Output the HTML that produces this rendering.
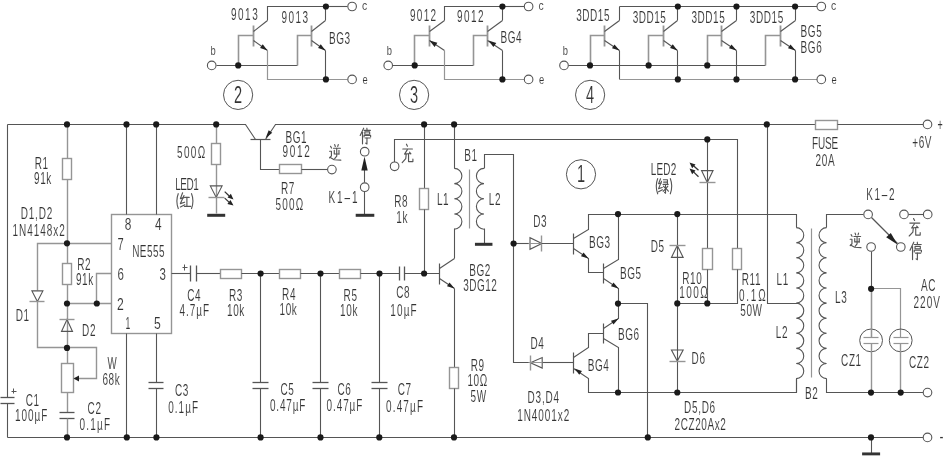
<!DOCTYPE html>
<html><head><meta charset="utf-8"><style>
html,body{margin:0;padding:0;background:#fff;}
svg{display:block;will-change:transform;}
text{font-family:"Liberation Sans",sans-serif;font-size:15.6px;fill:#333;stroke:#fff;stroke-width:0.12px;paint-order:fill stroke;}
</style></head><body>
<svg width="945" height="464" viewBox="0 0 945 464">
<rect width="945" height="464" fill="#fff"/>
<polyline points="216.5,65.5 297.5,65.5" fill="none" stroke="#555" stroke-width="1.1"/>
<polyline points="238.5,65.5 238.5,35.5 253.5,35.5" fill="none" stroke="#959595" stroke-width="1.6"/>
<polyline points="297.5,65.5 297.5,35.5 311.5,35.5" fill="none" stroke="#959595" stroke-width="1.6"/>
<polyline points="253.5,25.5 253.5,46.5" fill="none" stroke="#959595" stroke-width="1.8"/>
<polyline points="253.5,31.5 267.5,20.5" fill="none" stroke="#555" stroke-width="1.1"/>
<polyline points="253.5,40.5 267.5,50.5" fill="none" stroke="#555" stroke-width="1.1"/>
<polygon points="267.5,50.5 260.06,48.01 262.73,44.27" fill="#222"/>
<polyline points="311.5,25.5 311.5,46.5" fill="none" stroke="#959595" stroke-width="1.8"/>
<polyline points="311.5,31.5 325.5,20.5" fill="none" stroke="#555" stroke-width="1.1"/>
<polyline points="311.5,40.5 325.5,50.5" fill="none" stroke="#555" stroke-width="1.1"/>
<polygon points="325.5,50.5 318.06,48.01 320.73,44.27" fill="#222"/>
<polyline points="267.5,20.5 267.5,6.5 325.5,6.5" fill="none" stroke="#555" stroke-width="1.1"/>
<polyline points="325.5,6.5 325.5,20.5" fill="none" stroke="#555" stroke-width="1.1"/>
<polyline points="325.5,6.5 347.5,6.5" fill="none" stroke="#555" stroke-width="1.1"/>
<polyline points="267.5,50.5 267.5,79.5 347.5,79.5" fill="none" stroke="#959595" stroke-width="1.2"/>
<polyline points="325.5,50.5 325.5,79.5" fill="none" stroke="#555" stroke-width="1.1"/>
<polyline points="392.5,65.5 473.5,65.5" fill="none" stroke="#555" stroke-width="1.1"/>
<polyline points="414.5,65.5 414.5,35.5 429.5,35.5" fill="none" stroke="#959595" stroke-width="1.6"/>
<polyline points="473.5,65.5 473.5,35.5 487.5,35.5" fill="none" stroke="#959595" stroke-width="1.6"/>
<polyline points="429.5,25.5 429.5,46.5" fill="none" stroke="#959595" stroke-width="1.8"/>
<polyline points="429.5,31.5 444.5,20.5" fill="none" stroke="#555" stroke-width="1.1"/>
<polyline points="429.5,40.5 444.5,50.5" fill="none" stroke="#555" stroke-width="1.1"/>
<polygon points="429.5,40.5 437.38,42.75 434.6,46.91" fill="#222"/>
<polyline points="487.5,25.5 487.5,46.5" fill="none" stroke="#959595" stroke-width="1.8"/>
<polyline points="487.5,31.5 502.5,20.5" fill="none" stroke="#555" stroke-width="1.1"/>
<polyline points="487.5,40.5 502.5,50.5" fill="none" stroke="#555" stroke-width="1.1"/>
<polygon points="488.5,40.5 496.3,43 493.39,47.07" fill="#222"/>
<polyline points="444.5,20.5 444.5,6.5 502.5,6.5" fill="none" stroke="#555" stroke-width="1.1"/>
<polyline points="502.5,6.5 502.5,20.5" fill="none" stroke="#555" stroke-width="1.1"/>
<polyline points="502.5,6.5 524.5,6.5" fill="none" stroke="#555" stroke-width="1.1"/>
<polyline points="444.5,50.5 444.5,79.5 524.5,79.5" fill="none" stroke="#959595" stroke-width="1.2"/>
<polyline points="502.5,50.5 502.5,79.5" fill="none" stroke="#555" stroke-width="1.1"/>
<polyline points="568.5,65.5 765.5,65.5" fill="none" stroke="#555" stroke-width="1.1"/>
<polyline points="590.5,65.5 590.5,35.5 604.5,35.5" fill="none" stroke="#959595" stroke-width="1.6"/>
<polyline points="604.5,25.5 604.5,46.5" fill="none" stroke="#959595" stroke-width="1.8"/>
<polyline points="604.5,31.5 619.5,20.5" fill="none" stroke="#555" stroke-width="1.1"/>
<polyline points="604.5,40.5 619.5,50.5" fill="none" stroke="#555" stroke-width="1.1"/>
<polygon points="619.5,50.5 611.98,48.25 614.54,44.43" fill="#222"/>
<polyline points="619.5,20.5 619.5,6.5" fill="none" stroke="#555" stroke-width="1.1"/>
<polyline points="619.5,50.5 619.5,79.5" fill="none" stroke="#555" stroke-width="1.1"/>
<polyline points="648.5,65.5 648.5,35.5 663.5,35.5" fill="none" stroke="#959595" stroke-width="1.6"/>
<polyline points="663.5,25.5 663.5,46.5" fill="none" stroke="#959595" stroke-width="1.8"/>
<polyline points="663.5,31.5 677.5,20.5" fill="none" stroke="#555" stroke-width="1.1"/>
<polyline points="663.5,40.5 677.5,50.5" fill="none" stroke="#555" stroke-width="1.1"/>
<polygon points="677.5,50.5 670.06,48.01 672.73,44.27" fill="#222"/>
<polyline points="677.5,20.5 677.5,6.5" fill="none" stroke="#555" stroke-width="1.1"/>
<polyline points="677.5,50.5 677.5,79.5" fill="none" stroke="#555" stroke-width="1.1"/>
<polyline points="707.5,65.5 707.5,35.5 721.5,35.5" fill="none" stroke="#959595" stroke-width="1.6"/>
<polyline points="721.5,25.5 721.5,46.5" fill="none" stroke="#959595" stroke-width="1.8"/>
<polyline points="721.5,31.5 736.5,20.5" fill="none" stroke="#555" stroke-width="1.1"/>
<polyline points="721.5,40.5 736.5,50.5" fill="none" stroke="#555" stroke-width="1.1"/>
<polygon points="736.5,50.5 728.98,48.25 731.54,44.43" fill="#222"/>
<polyline points="736.5,20.5 736.5,6.5" fill="none" stroke="#555" stroke-width="1.1"/>
<polyline points="736.5,50.5 736.5,79.5" fill="none" stroke="#555" stroke-width="1.1"/>
<polyline points="765.5,65.5 765.5,35.5 780.5,35.5" fill="none" stroke="#959595" stroke-width="1.6"/>
<polyline points="780.5,25.5 780.5,46.5" fill="none" stroke="#959595" stroke-width="1.8"/>
<polyline points="780.5,31.5 795.5,20.5" fill="none" stroke="#555" stroke-width="1.1"/>
<polyline points="780.5,40.5 795.5,50.5" fill="none" stroke="#555" stroke-width="1.1"/>
<polygon points="795.5,50.5 787.98,48.25 790.54,44.43" fill="#222"/>
<polyline points="795.5,20.5 795.5,6.5" fill="none" stroke="#555" stroke-width="1.1"/>
<polyline points="795.5,50.5 795.5,79.5" fill="none" stroke="#555" stroke-width="1.1"/>
<polyline points="619.5,6.5 817.5,6.5" fill="none" stroke="#555" stroke-width="1.1"/>
<polyline points="619.5,79.5 817.5,79.5" fill="none" stroke="#959595" stroke-width="1.2"/>
<circle cx="238.1" cy="94.9" r="14.6" fill="none" stroke="#555" stroke-width="1"/>
<circle cx="414.1" cy="94.9" r="14.6" fill="none" stroke="#555" stroke-width="1"/>
<circle cx="590.1" cy="94.9" r="14.6" fill="none" stroke="#555" stroke-width="1"/>
<circle cx="581" cy="174.3" r="14.6" fill="none" stroke="#555" stroke-width="1"/>
<polyline points="7.5,124.5 7.5,397.5" fill="none" stroke="#555" stroke-width="1.1"/>
<polyline points="7.5,403.5 7.5,437.5" fill="none" stroke="#555" stroke-width="1.1"/>
<polyline points="0.5,397.5 14.5,397.5" fill="none" stroke="#555" stroke-width="1.3"/>
<polyline points="0.5,403.5 14.5,403.5" fill="none" stroke="#555" stroke-width="1.3"/>
<polyline points="7.5,124.5 245.5,124.5 255.5,139.5" fill="none" stroke="#555" stroke-width="1.1"/>
<polyline points="265.5,139.5 275.5,124.5 816.5,124.5" fill="none" stroke="#555" stroke-width="1.1"/>
<rect x="815.5" y="120.5" width="22" height="9" fill="#fff" stroke="#959595" stroke-width="1.4"/>
<polyline points="837.5,124.5 923.5,124.5" fill="none" stroke="#555" stroke-width="1.1"/>
<polyline points="7.5,437.5 923.5,437.5" fill="none" stroke="#555" stroke-width="1.1"/>
<polyline points="871.5,437.5 871.5,453.5" fill="none" stroke="#555" stroke-width="1.1"/>
<rect x="862.1" y="452.45" width="18" height="2.9" fill="#333"/>
<polyline points="67.5,124.5 67.5,158.5" fill="none" stroke="#959595" stroke-width="1.4"/>
<rect x="62.5" y="158.5" width="9" height="21" fill="#fff" stroke="#959595" stroke-width="1.4"/>
<polyline points="67.5,179.5 67.5,263.5" fill="none" stroke="#959595" stroke-width="1.4"/>
<rect x="62.5" y="263.5" width="9" height="21" fill="#fff" stroke="#959595" stroke-width="1.4"/>
<polyline points="67.5,284.5 67.5,412.5" fill="none" stroke="#959595" stroke-width="1.4"/>
<polygon points="61.5,331.4 72.5,331.4 67,319.5" fill="none" stroke="#555" stroke-width="1.1"/>
<polyline points="59.5,319.5 74.5,319.5" fill="none" stroke="#959595" stroke-width="1.4"/>
<rect x="61.5" y="363.5" width="12" height="29" fill="#fff" stroke="#959595" stroke-width="1.4"/>
<polyline points="59.5,412.5 74.5,412.5" fill="none" stroke="#555" stroke-width="1.3"/>
<polyline points="59.5,418.5 74.5,418.5" fill="none" stroke="#555" stroke-width="1.3"/>
<polyline points="67.5,418.5 67.5,437.5" fill="none" stroke="#959595" stroke-width="1.4"/>
<polyline points="37.5,290.5 37.5,243.5 111.5,243.5" fill="none" stroke="#959595" stroke-width="1.4"/>
<polygon points="31.9,290.9 42.9,290.9 37.4,301.6" fill="none" stroke="#555" stroke-width="1.1"/>
<polyline points="29.5,301.5 44.5,301.5" fill="none" stroke="#959595" stroke-width="1.4"/>
<polyline points="37.5,301.5 37.5,347.5 96.5,347.5 96.5,378.5 74.5,378.5" fill="none" stroke="#959595" stroke-width="1.4"/>
<polygon points="73.5,378.5 79,375.5 79,381.5" fill="#222"/>
<polyline points="111.5,273.5 96.5,273.5 96.5,303.5" fill="none" stroke="#959595" stroke-width="1.4"/>
<polyline points="67.5,303.5 111.5,303.5" fill="none" stroke="#959595" stroke-width="1.4"/>
<rect x="111.5" y="214.5" width="60" height="119" fill="#fff" stroke="#959595" stroke-width="1.4"/>
<polyline points="126.5,124.5 126.5,214.5" fill="none" stroke="#555" stroke-width="1.1"/>
<polyline points="156.5,124.5 156.5,214.5" fill="none" stroke="#555" stroke-width="1.1"/>
<polyline points="126.5,333.5 126.5,437.5" fill="none" stroke="#555" stroke-width="1.1"/>
<polyline points="156.5,333.5 156.5,382.5" fill="none" stroke="#555" stroke-width="1.1"/>
<polyline points="148.5,382.5 163.5,382.5" fill="none" stroke="#555" stroke-width="1.3"/>
<polyline points="148.5,388.5 163.5,388.5" fill="none" stroke="#555" stroke-width="1.3"/>
<polyline points="156.5,388.5 156.5,437.5" fill="none" stroke="#555" stroke-width="1.1"/>
<polyline points="216.5,124.5 216.5,143.5" fill="none" stroke="#959595" stroke-width="1.4"/>
<rect x="211.5" y="143.5" width="9" height="21" fill="#fff" stroke="#959595" stroke-width="1.4"/>
<polyline points="216.5,164.5 216.5,213.5" fill="none" stroke="#959595" stroke-width="1.4"/>
<polygon points="210.3,185.9 222.1,185.9 216.2,197.4" fill="none" stroke="#555" stroke-width="1.1"/>
<polyline points="208.5,197.5 224.5,197.5" fill="none" stroke="#959595" stroke-width="1.4"/>
<rect x="207.2" y="213.8" width="18" height="3" fill="#333"/>
<polygon points="233.5,199.5 227.5,197.52 230.83,193.78" fill="#222"/>
<line x1="224.7" y1="191.6" x2="229.5" y2="196.2" stroke="#333" stroke-width="1.3"/>
<polygon points="233.5,205.5 227.39,203.91 230.46,199.97" fill="#222"/>
<line x1="224.7" y1="198.1" x2="229.5" y2="202.6" stroke="#333" stroke-width="1.3"/>
<polyline points="250.5,139.5 270.5,139.5" fill="none" stroke="#555" stroke-width="1.2"/>
<polygon points="265.5,138.5 268.65,130.3 272.23,132.86" fill="#222"/>
<polyline points="260.5,139.5 260.5,169.5 279.5,169.5" fill="none" stroke="#555" stroke-width="1.1"/>
<rect x="279.5" y="164.5" width="22" height="9" fill="#fff" stroke="#959595" stroke-width="1.4"/>
<polyline points="301.5,169.5 327.5,169.5" fill="none" stroke="#555" stroke-width="1.1"/>
<polyline points="364.5,182.5 364.5,169.5" fill="none" stroke="#555" stroke-width="1.1"/>
<polygon points="364.5,156.5 367.7,170.5 361.3,170.5" fill="#222"/>
<polyline points="364.5,191.5 364.5,214.5" fill="none" stroke="#555" stroke-width="1.1"/>
<rect x="355.7" y="213.8" width="18.6" height="3" fill="#333"/>
<polyline points="394.5,162.5 394.5,139.5 737.5,139.5 737.5,248.5" fill="none" stroke="#555" stroke-width="1.1"/>
<polyline points="424.5,124.5 424.5,188.5" fill="none" stroke="#555" stroke-width="1.1"/>
<rect x="419.5" y="188.5" width="9" height="21" fill="#fff" stroke="#959595" stroke-width="1.4"/>
<polyline points="424.5,209.5 424.5,273.5" fill="none" stroke="#555" stroke-width="1.1"/>
<polyline points="454.5,124.5 454.5,168.5" fill="none" stroke="#555" stroke-width="1.1"/>
<path d="M454.3,168.4 a7.6,7.6 0 0,1 0,15.2 a7.6,7.6 0 0,1 0,15.2 a7.6,7.6 0 0,1 0,15.2 a7.6,7.6 0 0,1 0,15.2" fill="none" stroke="#555" stroke-width="1.1"/>
<polyline points="454.5,228.5 454.5,258.5" fill="none" stroke="#555" stroke-width="1.1"/>
<polyline points="469.5,169.5 469.5,228.5" fill="none" stroke="#959595" stroke-width="1.2"/>
<polyline points="484.5,168.5 484.5,154.5 513.5,154.5 513.5,362.5 530.5,362.5" fill="none" stroke="#555" stroke-width="1.1"/>
<path d="M484,168.4 a7.6,7.6 0 0,0 0,15.2 a7.6,7.6 0 0,0 0,15.2 a7.6,7.6 0 0,0 0,15.2 a7.6,7.6 0 0,0 0,15.2" fill="none" stroke="#555" stroke-width="1.1"/>
<polyline points="484.5,228.5 484.5,243.5" fill="none" stroke="#555" stroke-width="1.1"/>
<rect x="474.95" y="242.8" width="17.5" height="3" fill="#333"/>
<polyline points="171.5,273.5 190.5,273.5" fill="none" stroke="#555" stroke-width="1.1"/>
<polyline points="190.5,265.5 190.5,281.5" fill="none" stroke="#555" stroke-width="1.3"/>
<polyline points="196.5,265.5 196.5,281.5" fill="none" stroke="#555" stroke-width="1.3"/>
<polyline points="196.5,273.5 220.5,273.5" fill="none" stroke="#555" stroke-width="1.1"/>
<rect x="220.5" y="269.5" width="21" height="9" fill="#fff" stroke="#959595" stroke-width="1.4"/>
<polyline points="241.5,273.5 279.5,273.5" fill="none" stroke="#555" stroke-width="1.1"/>
<rect x="279.5" y="269.5" width="21" height="9" fill="#fff" stroke="#959595" stroke-width="1.4"/>
<polyline points="300.5,273.5 339.5,273.5" fill="none" stroke="#555" stroke-width="1.1"/>
<rect x="339.5" y="269.5" width="21" height="9" fill="#fff" stroke="#959595" stroke-width="1.4"/>
<polyline points="360.5,273.5 399.5,273.5" fill="none" stroke="#555" stroke-width="1.1"/>
<polyline points="399.5,266.5 399.5,280.5" fill="none" stroke="#555" stroke-width="1.3"/>
<polyline points="404.5,266.5 404.5,280.5" fill="none" stroke="#555" stroke-width="1.3"/>
<polyline points="404.5,273.5 439.5,273.5" fill="none" stroke="#555" stroke-width="1.1"/>
<polyline points="260.5,273.5 260.5,382.5" fill="none" stroke="#555" stroke-width="1.1"/>
<polyline points="252.5,382.5 268.5,382.5" fill="none" stroke="#555" stroke-width="1.3"/>
<polyline points="252.5,388.5 268.5,388.5" fill="none" stroke="#555" stroke-width="1.3"/>
<polyline points="260.5,388.5 260.5,437.5" fill="none" stroke="#555" stroke-width="1.1"/>
<polyline points="320.5,273.5 320.5,382.5" fill="none" stroke="#555" stroke-width="1.1"/>
<polyline points="312.5,382.5 328.5,382.5" fill="none" stroke="#555" stroke-width="1.3"/>
<polyline points="312.5,388.5 328.5,388.5" fill="none" stroke="#555" stroke-width="1.3"/>
<polyline points="320.5,388.5 320.5,437.5" fill="none" stroke="#555" stroke-width="1.1"/>
<polyline points="379.5,273.5 379.5,382.5" fill="none" stroke="#555" stroke-width="1.1"/>
<polyline points="371.5,382.5 387.5,382.5" fill="none" stroke="#555" stroke-width="1.3"/>
<polyline points="371.5,388.5 387.5,388.5" fill="none" stroke="#555" stroke-width="1.3"/>
<polyline points="379.5,388.5 379.5,437.5" fill="none" stroke="#555" stroke-width="1.1"/>
<polyline points="182.5,267.5 187.5,267.5" fill="none" stroke="#555" stroke-width="1"/>
<polyline points="184.5,264.5 184.5,270.5" fill="none" stroke="#555" stroke-width="1"/>
<polyline points="11.5,391.5 16.5,391.5" fill="none" stroke="#555" stroke-width="1"/>
<polyline points="13.5,388.5 13.5,393.5" fill="none" stroke="#555" stroke-width="1"/>
<polyline points="439.5,263.5 439.5,284.5" fill="none" stroke="#555" stroke-width="1.2"/>
<polyline points="439.5,268.5 454.5,258.5" fill="none" stroke="#555" stroke-width="1.1"/>
<polyline points="439.5,278.5 454.5,288.5" fill="none" stroke="#555" stroke-width="1.1"/>
<polygon points="454.5,288.5 446.98,286.25 449.54,282.43" fill="#222"/>
<polyline points="454.5,288.5 454.5,367.5" fill="none" stroke="#555" stroke-width="1.1"/>
<rect x="449.5" y="367.5" width="9" height="21" fill="#fff" stroke="#959595" stroke-width="1.4"/>
<polyline points="454.5,388.5 454.5,437.5" fill="none" stroke="#555" stroke-width="1.1"/>
<polyline points="513.5,243.5 530.5,243.5" fill="none" stroke="#555" stroke-width="1.1"/>
<polygon points="530,237.7 530,249.3 541.9,243.5" fill="none" stroke="#555" stroke-width="1.1"/>
<polyline points="541.5,235.5 541.5,251.5" fill="none" stroke="#959595" stroke-width="1.4"/>
<polyline points="528.5,243.5 543.5,243.5" fill="none" stroke="#959595" stroke-width="1"/>
<polyline points="541.5,243.5 573.5,243.5" fill="none" stroke="#555" stroke-width="1.1"/>
<polyline points="573.5,233.5 573.5,254.5" fill="none" stroke="#555" stroke-width="1.2"/>
<polyline points="573.5,238.5 588.5,229.5 588.5,214.5 796.5,214.5 796.5,227.5" fill="none" stroke="#555" stroke-width="1.1"/>
<polyline points="573.5,248.5 588.5,258.5 588.5,272.5 603.5,272.5" fill="none" stroke="#555" stroke-width="1.1"/>
<polygon points="588.5,258.5 580.98,256.25 583.54,252.43" fill="#222"/>
<polyline points="603.5,263.5 603.5,283.5" fill="none" stroke="#555" stroke-width="1.2"/>
<polyline points="603.5,268.5 618.5,259.5 618.5,214.5" fill="none" stroke="#555" stroke-width="1.1"/>
<polyline points="603.5,278.5 618.5,288.5 618.5,318.5 603.5,328.5" fill="none" stroke="#555" stroke-width="1.1"/>
<polygon points="618.5,288.5 610.98,286.25 613.54,282.43" fill="#222"/>
<polyline points="618.5,303.5 647.5,303.5 647.5,437.5" fill="none" stroke="#555" stroke-width="1.1"/>
<polyline points="603.5,323.5 603.5,343.5" fill="none" stroke="#555" stroke-width="1.2"/>
<polygon points="618.5,318.5 613.54,324.57 610.98,320.75" fill="#222"/>
<polyline points="603.5,338.5 618.5,347.5 618.5,392.5" fill="none" stroke="#555" stroke-width="1.1"/>
<polygon points="542.2,357.5 542.2,368.1 530.4,362.8" fill="none" stroke="#555" stroke-width="1.1"/>
<polyline points="530.5,355.5 530.5,370.5" fill="none" stroke="#959595" stroke-width="1.4"/>
<polyline points="528.5,362.5 544.5,362.5" fill="none" stroke="#959595" stroke-width="1"/>
<polyline points="542.5,362.5 573.5,362.5" fill="none" stroke="#555" stroke-width="1.1"/>
<polyline points="573.5,352.5 573.5,373.5" fill="none" stroke="#555" stroke-width="1.2"/>
<polyline points="573.5,357.5 588.5,347.5 588.5,333.5 603.5,333.5" fill="none" stroke="#555" stroke-width="1.1"/>
<polyline points="573.5,368.5 588.5,378.5 588.5,392.5 796.5,392.5 796.5,378.5" fill="none" stroke="#555" stroke-width="1.1"/>
<polygon points="574.5,368.5 581.94,370.99 579.27,374.73" fill="#222"/>
<polyline points="677.5,214.5 677.5,392.5" fill="none" stroke="#555" stroke-width="1.1"/>
<polygon points="671.45,257.4 683.15,257.4 677.3,245.5" fill="none" stroke="#555" stroke-width="1.1"/>
<polyline points="669.5,245.5 685.5,245.5" fill="none" stroke="#959595" stroke-width="1.4"/>
<polygon points="671.45,350 683.15,350 677.3,361" fill="none" stroke="#555" stroke-width="1.1"/>
<polyline points="669.5,361.5 685.5,361.5" fill="none" stroke="#959595" stroke-width="1.4"/>
<polyline points="707.5,139.5 707.5,248.5" fill="none" stroke="#555" stroke-width="1.1"/>
<polygon points="701.55,170.6 713.05,170.6 707.3,182.4" fill="none" stroke="#555" stroke-width="1.1"/>
<polyline points="699.5,182.5 715.5,182.5" fill="none" stroke="#959595" stroke-width="1.4"/>
<rect x="702.5" y="248.5" width="10" height="21" fill="#fff" stroke="#959595" stroke-width="1.4"/>
<polyline points="707.5,269.5 707.5,303.5" fill="none" stroke="#555" stroke-width="1.1"/>
<rect x="732.5" y="248.5" width="9" height="21" fill="#fff" stroke="#959595" stroke-width="1.4"/>
<polyline points="677.5,303.5 737.5,303.5 737.5,269.5" fill="none" stroke="#555" stroke-width="1.1"/>
<polygon points="689.5,162.5 695.5,164.48 692.17,168.22" fill="#222"/>
<line x1="698.5" y1="170.3" x2="693.5" y2="165.8" stroke="#333" stroke-width="1.3"/>
<polygon points="689.5,168.5 695.5,170.48 692.17,174.22" fill="#222"/>
<line x1="698.5" y1="176.7" x2="693.5" y2="171.9" stroke="#333" stroke-width="1.3"/>
<polyline points="767.5,124.5 767.5,303.5 797.5,303.5" fill="none" stroke="#555" stroke-width="1.1"/>
<path d="M796.2,227.6 a7.55,7.55 0 0,1 0,15.1 a7.55,7.55 0 0,1 0,15.1 a7.55,7.55 0 0,1 0,15.1 a7.55,7.55 0 0,1 0,15.1 a7.55,7.55 0 0,1 0,15.1 a7.55,7.55 0 0,1 0,15.1 a7.55,7.55 0 0,1 0,15.1 a7.55,7.55 0 0,1 0,15.1 a7.55,7.55 0 0,1 0,15.1 a7.55,7.55 0 0,1 0,15.1" fill="none" stroke="#555" stroke-width="1.1"/>
<polyline points="811.5,228.5 811.5,377.5" fill="none" stroke="#959595" stroke-width="1.2"/>
<path d="M826.6,227.6 a7.55,7.55 0 0,0 0,15.1 a7.55,7.55 0 0,0 0,15.1 a7.55,7.55 0 0,0 0,15.1 a7.55,7.55 0 0,0 0,15.1 a7.55,7.55 0 0,0 0,15.1 a7.55,7.55 0 0,0 0,15.1 a7.55,7.55 0 0,0 0,15.1 a7.55,7.55 0 0,0 0,15.1 a7.55,7.55 0 0,0 0,15.1 a7.55,7.55 0 0,0 0,15.1" fill="none" stroke="#555" stroke-width="1.1"/>
<polyline points="826.5,227.5 826.5,214.5 863.5,214.5" fill="none" stroke="#555" stroke-width="1.1"/>
<polyline points="826.5,378.5 826.5,392.5 923.5,392.5" fill="none" stroke="#555" stroke-width="1.1"/>
<polyline points="796.5,378.5 796.5,392.5" fill="none" stroke="#555" stroke-width="1.1"/>
<polyline points="908.5,214.5 923.5,214.5" fill="none" stroke="#555" stroke-width="1.1"/>
<polyline points="871.5,217.5 897.5,243.5" fill="none" stroke="#555" stroke-width="1.2"/>
<polygon points="897.5,244.5 886.18,237.36 890.79,232.92" fill="#222"/>
<polyline points="871.5,251.5 871.5,337.5" fill="none" stroke="#555" stroke-width="1.1"/>
<polyline points="871.5,288.5 900.5,288.5 900.5,337.5" fill="none" stroke="#959595" stroke-width="1.2"/>
<circle cx="871.1" cy="340.4" r="11.4" fill="none" stroke="#555" stroke-width="1"/>
<polyline points="863.5,337.5 878.5,337.5" fill="none" stroke="#959595" stroke-width="1.2"/>
<polyline points="863.5,343.5 878.5,343.5" fill="none" stroke="#959595" stroke-width="1.2"/>
<polyline points="871.5,343.5 871.5,392.5" fill="none" stroke="#959595" stroke-width="1.4"/>
<circle cx="900.7" cy="340.4" r="11.4" fill="none" stroke="#555" stroke-width="1"/>
<polyline points="893.5,337.5 908.5,337.5" fill="none" stroke="#959595" stroke-width="1.2"/>
<polyline points="893.5,343.5 908.5,343.5" fill="none" stroke="#959595" stroke-width="1.2"/>
<polyline points="900.5,343.5 900.5,392.5" fill="none" stroke="#959595" stroke-width="1.4"/>
<polyline points="871.5,288.5 871.5,337.5" fill="none" stroke="#959595" stroke-width="1.4"/>
<text transform="translate(231,20.1) scale(0.64,1)" x="0" y="0" textLength="41.72" lengthAdjust="spacing">9013</text>
<text transform="translate(281.4,23.2) scale(0.64,1)" x="0" y="0" textLength="41.72" lengthAdjust="spacing">9013</text>
<text transform="translate(328.95,43.9) scale(0.64,1)" x="0" y="0" style="letter-spacing:0.94px">BG3</text>
<text transform="translate(409.9,21.1) scale(0.64,1)" x="0" y="0" textLength="40.94" lengthAdjust="spacing">9012</text>
<text transform="translate(500.4,43.2) scale(0.64,1)" x="0" y="0" style="letter-spacing:0.94px">BG4</text>
<text transform="translate(456.9,22.3) scale(0.64,1)" x="0" y="0" textLength="41.72" lengthAdjust="spacing">9012</text>
<text transform="translate(576.3,20.7) scale(0.64,1)" x="0" y="0" textLength="51.88" lengthAdjust="spacing">3DD15</text>
<text transform="translate(632.7,23) scale(0.64,1)" x="0" y="0" textLength="51.88" lengthAdjust="spacing">3DD15</text>
<text transform="translate(691.5,23) scale(0.64,1)" x="0" y="0" textLength="51.88" lengthAdjust="spacing">3DD15</text>
<text transform="translate(749.8,23) scale(0.64,1)" x="0" y="0" textLength="52.19" lengthAdjust="spacing">3DD15</text>
<text transform="translate(800.6,37.2) scale(0.64,1)" x="0" y="0" style="letter-spacing:0.94px">BG5</text>
<text transform="translate(800.6,52.5) scale(0.64,1)" x="0" y="0" style="letter-spacing:0.94px">BG6</text>
<text transform="translate(34.7,168.9) scale(0.64,1)" x="0" y="0" style="letter-spacing:0.94px">R1</text>
<text transform="translate(34,184.1) scale(0.64,1)" x="0" y="0" style="letter-spacing:0.94px">91k</text>
<text transform="translate(20.8,218.9) scale(0.64,1)" x="0" y="0" textLength="49.06" lengthAdjust="spacing">D1,D2</text>
<text transform="translate(12.5,235.5) scale(0.64,1)" x="0" y="0" textLength="81.56" lengthAdjust="spacing">1N4148x2</text>
<text transform="translate(77.2,269.9) scale(0.64,1)" x="0" y="0" style="letter-spacing:0.94px">R2</text>
<text transform="translate(75.95,285.3) scale(0.64,1)" x="0" y="0" style="letter-spacing:0.94px">91k</text>
<text x="124.7" y="229.5" textLength="6.6" lengthAdjust="spacingAndGlyphs">8</text>
<text x="154.9" y="229.5" textLength="6.6" lengthAdjust="spacingAndGlyphs">4</text>
<text x="117.6" y="249.5" textLength="6.2" lengthAdjust="spacingAndGlyphs">7</text>
<text transform="translate(132.2,256.9) scale(0.64,1)" x="0" y="0" textLength="50.62" lengthAdjust="spacing">NE555</text>
<text x="117.4" y="279.9" textLength="6.4" lengthAdjust="spacingAndGlyphs">6</text>
<text x="159.6" y="280.3" textLength="6.4" lengthAdjust="spacingAndGlyphs">3</text>
<text x="117.1" y="310.1" textLength="6.8" lengthAdjust="spacingAndGlyphs">2</text>
<text x="125.4" y="329.1" textLength="4.8" lengthAdjust="spacingAndGlyphs">1</text>
<text x="153.9" y="329.1" textLength="6.8" lengthAdjust="spacingAndGlyphs">5</text>
<text transform="translate(15.8,320.8) scale(0.64,1)" x="0" y="0" style="letter-spacing:0.94px">D1</text>
<text transform="translate(82.1,336.2) scale(0.64,1)" x="0" y="0" style="letter-spacing:0.94px">D2</text>
<text x="107.6" y="369.4" textLength="9.2" lengthAdjust="spacingAndGlyphs">W</text>
<text transform="translate(102.4,384.8) scale(0.64,1)" x="0" y="0" style="letter-spacing:0.94px">68k</text>
<text transform="translate(25.7,405.5) scale(0.64,1)" x="0" y="0" style="letter-spacing:0.94px">C1</text>
<text transform="translate(14.9,420.9) scale(0.64,1)" x="0" y="0" textLength="50.62" lengthAdjust="spacing">100µF</text>
<text transform="translate(87.6,413.7) scale(0.64,1)" x="0" y="0" style="letter-spacing:0.94px">C2</text>
<text transform="translate(79.5,429.9) scale(0.64,1)" x="0" y="0" textLength="47.81" lengthAdjust="spacing">0.1µF</text>
<text transform="translate(175,396) scale(0.64,1)" x="0" y="0" style="letter-spacing:0.94px">C3</text>
<text transform="translate(168.2,412.5) scale(0.64,1)" x="0" y="0" textLength="46.72" lengthAdjust="spacing">0.1µF</text>
<text transform="translate(176.9,157.7) scale(0.64,1)" x="0" y="0" textLength="44.38" lengthAdjust="spacing">500Ω</text>
<text transform="translate(175.2,189.6) scale(0.64,1)" x="0" y="0" textLength="37.03" lengthAdjust="spacing">LED1</text>
<text transform="translate(285.4,143.2) scale(0.64,1)" x="0" y="0" style="letter-spacing:0.94px">BG1</text>
<text transform="translate(282.5,157.4) scale(0.64,1)" x="0" y="0" textLength="42.81" lengthAdjust="spacing">9012</text>
<text transform="translate(280.9,194.1) scale(0.64,1)" x="0" y="0" style="letter-spacing:0.94px">R7</text>
<text transform="translate(275.5,209.5) scale(0.64,1)" x="0" y="0" textLength="43.12" lengthAdjust="spacing">500Ω</text>
<text transform="translate(328.5,202.8) scale(0.64,1)" x="0" y="0" textLength="45.47" lengthAdjust="spacing">K1–1</text>
<text transform="translate(187.3,300.5) scale(0.64,1)" x="0" y="0" style="letter-spacing:0.94px">C4</text>
<text transform="translate(179.5,316) scale(0.64,1)" x="0" y="0" textLength="46.41" lengthAdjust="spacing">4.7µF</text>
<text transform="translate(229.05,300.5) scale(0.64,1)" x="0" y="0" style="letter-spacing:0.94px">R3</text>
<text transform="translate(227.05,316) scale(0.64,1)" x="0" y="0" style="letter-spacing:0.94px">10k</text>
<text transform="translate(282.1,299.5) scale(0.64,1)" x="0" y="0" style="letter-spacing:0.94px">R4</text>
<text transform="translate(279.55,314.9) scale(0.64,1)" x="0" y="0" style="letter-spacing:0.94px">10k</text>
<text transform="translate(343.6,300.5) scale(0.64,1)" x="0" y="0" style="letter-spacing:0.94px">R5</text>
<text transform="translate(340.1,316) scale(0.64,1)" x="0" y="0" style="letter-spacing:0.94px">10k</text>
<text transform="translate(280.4,395.3) scale(0.64,1)" x="0" y="0" style="letter-spacing:0.94px">C5</text>
<text transform="translate(270,411.4) scale(0.64,1)" x="0" y="0" textLength="55.31" lengthAdjust="spacing">0.47µF</text>
<text transform="translate(337.4,395.3) scale(0.64,1)" x="0" y="0" style="letter-spacing:0.94px">C6</text>
<text transform="translate(326.5,411.4) scale(0.64,1)" x="0" y="0" textLength="56.09" lengthAdjust="spacing">0.47µF</text>
<text transform="translate(397.8,395.3) scale(0.64,1)" x="0" y="0" style="letter-spacing:0.94px">C7</text>
<text transform="translate(386,411.8) scale(0.64,1)" x="0" y="0" textLength="57.97" lengthAdjust="spacing">0.47µF</text>
<text transform="translate(396.15,298.3) scale(0.64,1)" x="0" y="0" style="letter-spacing:0.94px">C8</text>
<text transform="translate(390.3,315.5) scale(0.64,1)" x="0" y="0" textLength="41.25" lengthAdjust="spacing">10µF</text>
<text transform="translate(394.3,207.1) scale(0.64,1)" x="0" y="0" style="letter-spacing:0.94px">R8</text>
<text transform="translate(396.3,222.5) scale(0.64,1)" x="0" y="0" style="letter-spacing:0.94px">1k</text>
<text transform="translate(464.2,160.6) scale(0.64,1)" x="0" y="0" style="letter-spacing:0.94px">B1</text>
<text transform="translate(436.9,205) scale(0.64,1)" x="0" y="0" style="letter-spacing:0.94px">L1</text>
<text transform="translate(488.85,205) scale(0.64,1)" x="0" y="0" style="letter-spacing:0.94px">L2</text>
<text transform="translate(469.25,275.8) scale(0.64,1)" x="0" y="0" style="letter-spacing:0.94px">BG2</text>
<text transform="translate(463.2,291.2) scale(0.64,1)" x="0" y="0" textLength="52.5" lengthAdjust="spacing">3DG12</text>
<text transform="translate(470.65,370.5) scale(0.64,1)" x="0" y="0" style="letter-spacing:0.94px">R9</text>
<text transform="translate(467.4,385.9) scale(0.64,1)" x="0" y="0" style="letter-spacing:0.94px">10Ω</text>
<text transform="translate(470.6,401.9) scale(0.64,1)" x="0" y="0" style="letter-spacing:0.94px">5W</text>
<text transform="translate(533.3,227) scale(0.64,1)" x="0" y="0" style="letter-spacing:0.94px">D3</text>
<text transform="translate(530.4,349.2) scale(0.64,1)" x="0" y="0" style="letter-spacing:0.94px">D4</text>
<text transform="translate(527.5,403.1) scale(0.64,1)" x="0" y="0" textLength="49.38" lengthAdjust="spacing">D3,D4</text>
<text transform="translate(517.2,420.9) scale(0.64,1)" x="0" y="0" textLength="81.41" lengthAdjust="spacing">1N4001x2</text>
<text transform="translate(588.9,248.1) scale(0.64,1)" x="0" y="0" style="letter-spacing:0.94px">BG3</text>
<text transform="translate(619.9,279.4) scale(0.64,1)" x="0" y="0" style="letter-spacing:0.94px">BG5</text>
<text transform="translate(617.95,339.7) scale(0.64,1)" x="0" y="0" style="letter-spacing:0.94px">BG6</text>
<text transform="translate(587.7,370.5) scale(0.64,1)" x="0" y="0" style="letter-spacing:0.94px">BG4</text>
<text transform="translate(650.8,174.7) scale(0.64,1)" x="0" y="0" textLength="39.69" lengthAdjust="spacing">LED2</text>
<text transform="translate(650.65,252.1) scale(0.64,1)" x="0" y="0" style="letter-spacing:0.94px">D5</text>
<text transform="translate(691.6,363.5) scale(0.64,1)" x="0" y="0" style="letter-spacing:0.94px">D6</text>
<text transform="translate(682.3,284.1) scale(0.64,1)" x="0" y="0" style="letter-spacing:0.94px">R10</text>
<text transform="translate(679.3,298.3) scale(0.64,1)" x="0" y="0" textLength="44.38" lengthAdjust="spacing">100Ω</text>
<text transform="translate(741.7,285.3) scale(0.64,1)" x="0" y="0" style="letter-spacing:0.94px">R11</text>
<text transform="translate(738.9,300.5) scale(0.64,1)" x="0" y="0" textLength="41.72" lengthAdjust="spacing">0.1Ω</text>
<text transform="translate(740.3,316) scale(0.64,1)" x="0" y="0" style="letter-spacing:0.94px">50W</text>
<text transform="translate(684,412.5) scale(0.64,1)" x="0" y="0" textLength="48.59" lengthAdjust="spacing">D5,D6</text>
<text transform="translate(674.5,429.9) scale(0.64,1)" x="0" y="0" textLength="80.31" lengthAdjust="spacing">2CZ20Ax2</text>
<text transform="translate(776.5,285.3) scale(0.64,1)" x="0" y="0" style="letter-spacing:0.94px">L1</text>
<text transform="translate(775.8,337.5) scale(0.64,1)" x="0" y="0" style="letter-spacing:0.94px">L2</text>
<text transform="translate(835.1,303) scale(0.64,1)" x="0" y="0" style="letter-spacing:0.94px">L3</text>
<text transform="translate(804.95,398.5) scale(0.64,1)" x="0" y="0" style="letter-spacing:0.94px">B2</text>
<text transform="translate(841.1,365.8) scale(0.64,1)" x="0" y="0" style="letter-spacing:0.94px">CZ1</text>
<text transform="translate(909,367.5) scale(0.64,1)" x="0" y="0" style="letter-spacing:0.94px">CZ2</text>
<text transform="translate(920.95,291.1) scale(0.64,1)" x="0" y="0" style="letter-spacing:0.94px">AC</text>
<text transform="translate(913.5,308.1) scale(0.64,1)" x="0" y="0" textLength="41.25" lengthAdjust="spacing">220V</text>
<text transform="translate(812,149.1) scale(0.64,1)" x="0" y="0" textLength="40.78" lengthAdjust="spacing">FUSE</text>
<text transform="translate(815.6,165.5) scale(0.64,1)" x="0" y="0" style="letter-spacing:0.94px">20A</text>
<text transform="translate(912.3,147.9) scale(0.64,1)" x="0" y="0" style="letter-spacing:0.94px">+6V</text>
<text transform="translate(866.3,200.3) scale(0.64,1)" x="0" y="0" textLength="44.06" lengthAdjust="spacing">K1–2</text>
<text x="210.5" y="55.2" style="font-size:13.2px" textLength="5.2" lengthAdjust="spacingAndGlyphs">b</text>
<text x="386.7" y="55.2" style="font-size:13.2px" textLength="5.2" lengthAdjust="spacingAndGlyphs">b</text>
<text x="562.7" y="55.2" style="font-size:13.2px" textLength="5.2" lengthAdjust="spacingAndGlyphs">b</text>
<text x="361.9" y="10.2" style="font-size:13.2px" textLength="5.2" lengthAdjust="spacingAndGlyphs">c</text>
<text x="538.4" y="10.2" style="font-size:13.2px" textLength="5.2" lengthAdjust="spacingAndGlyphs">c</text>
<text x="830.9" y="10.2" style="font-size:13.2px" textLength="5.2" lengthAdjust="spacingAndGlyphs">c</text>
<text x="362.4" y="84.2" style="font-size:13.2px" textLength="5.2" lengthAdjust="spacingAndGlyphs">e</text>
<text x="538.9" y="84.2" style="font-size:13.2px" textLength="5.2" lengthAdjust="spacingAndGlyphs">e</text>
<text x="831.4" y="84.2" style="font-size:13.2px" textLength="5.2" lengthAdjust="spacingAndGlyphs">e</text>
<text x="937.6" y="129.9" textLength="5.2" lengthAdjust="spacingAndGlyphs">+</text>
<text x="939.5" y="442" textLength="4" lengthAdjust="spacingAndGlyphs">-</text>
<text x="238.1" y="102.8" text-anchor="middle" style="font-size:23.5px" transform="translate(238.1,0) scale(0.62,1) translate(-238.1,0)">2</text>
<text x="414.1" y="102.8" text-anchor="middle" style="font-size:23.5px" transform="translate(414.1,0) scale(0.62,1) translate(-414.1,0)">3</text>
<text x="590.1" y="102.8" text-anchor="middle" style="font-size:23.5px" transform="translate(590.1,0) scale(0.62,1) translate(-590.1,0)">4</text>
<text x="581" y="182.2" text-anchor="middle" style="font-size:23.5px" transform="translate(581,0) scale(0.62,1) translate(-581,0)">1</text>
<polyline points="363.67,128.2 360.2,135.5" fill="none" stroke="#555" stroke-width="1.15" stroke-linecap="round" stroke-linejoin="round"/>
<polyline points="362.51,132.2 362.51,143.8" fill="none" stroke="#555" stroke-width="1.15" stroke-linecap="round" stroke-linejoin="round"/>
<polyline points="366.85,128.2 367.04,130" fill="none" stroke="#555" stroke-width="1.15" stroke-linecap="round" stroke-linejoin="round"/>
<polyline points="364.15,130.3 370.41,130.3" fill="none" stroke="#555" stroke-width="1.15" stroke-linecap="round" stroke-linejoin="round"/>
<polyline points="364.83,131.9 369.64,131.9 369.64,134.2 364.83,134.2 364.83,131.9" fill="none" stroke="#555" stroke-width="1.15" stroke-linecap="round" stroke-linejoin="round"/>
<polyline points="364.05,137 364.05,135.4 370.61,135.4 370.61,137" fill="none" stroke="#555" stroke-width="1.15" stroke-linecap="round" stroke-linejoin="round"/>
<polyline points="365.21,138 370.03,138" fill="none" stroke="#555" stroke-width="1.15" stroke-linecap="round" stroke-linejoin="round"/>
<polyline points="366.95,138 366.95,144 365.79,143.2" fill="none" stroke="#555" stroke-width="1.15" stroke-linecap="round" stroke-linejoin="round"/>
<polyline points="913.8,242.2 910,250.32" fill="none" stroke="#555" stroke-width="1.15" stroke-linecap="round" stroke-linejoin="round"/>
<polyline points="912.53,246.65 912.53,259.56" fill="none" stroke="#555" stroke-width="1.15" stroke-linecap="round" stroke-linejoin="round"/>
<polyline points="917.28,242.2 917.49,244.2" fill="none" stroke="#555" stroke-width="1.15" stroke-linecap="round" stroke-linejoin="round"/>
<polyline points="914.32,244.54 921.18,244.54" fill="none" stroke="#555" stroke-width="1.15" stroke-linecap="round" stroke-linejoin="round"/>
<polyline points="915.06,246.32 920.33,246.32 920.33,248.88 915.06,248.88 915.06,246.32" fill="none" stroke="#555" stroke-width="1.15" stroke-linecap="round" stroke-linejoin="round"/>
<polyline points="914.22,251.99 914.22,250.21 921.39,250.21 921.39,251.99" fill="none" stroke="#555" stroke-width="1.15" stroke-linecap="round" stroke-linejoin="round"/>
<polyline points="915.48,253.1 920.76,253.1" fill="none" stroke="#555" stroke-width="1.15" stroke-linecap="round" stroke-linejoin="round"/>
<polyline points="917.38,253.1 917.38,259.78 916.12,258.89" fill="none" stroke="#555" stroke-width="1.15" stroke-linecap="round" stroke-linejoin="round"/>
<polyline points="330.52,146.28 331.53,148.05" fill="none" stroke="#555" stroke-width="1.15" stroke-linecap="round" stroke-linejoin="round"/>
<polyline points="329.6,151.21 331.43,151.21 331.43,155.96 329.6,157.93" fill="none" stroke="#555" stroke-width="1.15" stroke-linecap="round" stroke-linejoin="round"/>
<polyline points="329.91,157.34 334.18,159.71 340.8,160.1" fill="none" stroke="#555" stroke-width="1.15" stroke-linecap="round" stroke-linejoin="round"/>
<polyline points="334.69,144.6 335.3,146.47" fill="none" stroke="#555" stroke-width="1.15" stroke-linecap="round" stroke-linejoin="round"/>
<polyline points="338.25,144.6 337.75,146.47" fill="none" stroke="#555" stroke-width="1.15" stroke-linecap="round" stroke-linejoin="round"/>
<polyline points="333.47,148.25 340.39,148.25" fill="none" stroke="#555" stroke-width="1.15" stroke-linecap="round" stroke-linejoin="round"/>
<polyline points="334.28,150.42 334.28,153.98 338.97,153.98" fill="none" stroke="#555" stroke-width="1.15" stroke-linecap="round" stroke-linejoin="round"/>
<polyline points="338.97,150.42 338.97,153.98" fill="none" stroke="#555" stroke-width="1.15" stroke-linecap="round" stroke-linejoin="round"/>
<polyline points="336.73,148.25 336.73,156.15 334.69,158.72" fill="none" stroke="#555" stroke-width="1.15" stroke-linecap="round" stroke-linejoin="round"/>
<polyline points="851.08,234.65 852.07,236.32" fill="none" stroke="#555" stroke-width="1.15" stroke-linecap="round" stroke-linejoin="round"/>
<polyline points="850.2,239.29 851.97,239.29 851.97,243.74 850.2,245.59" fill="none" stroke="#555" stroke-width="1.15" stroke-linecap="round" stroke-linejoin="round"/>
<polyline points="850.49,245.03 854.62,247.26 861,247.63" fill="none" stroke="#555" stroke-width="1.15" stroke-linecap="round" stroke-linejoin="round"/>
<polyline points="855.11,233.08 855.7,234.84" fill="none" stroke="#555" stroke-width="1.15" stroke-linecap="round" stroke-linejoin="round"/>
<polyline points="858.55,233.08 858.05,234.84" fill="none" stroke="#555" stroke-width="1.15" stroke-linecap="round" stroke-linejoin="round"/>
<polyline points="853.93,236.51 860.61,236.51" fill="none" stroke="#555" stroke-width="1.15" stroke-linecap="round" stroke-linejoin="round"/>
<polyline points="854.72,238.55 854.72,241.88 859.23,241.88" fill="none" stroke="#555" stroke-width="1.15" stroke-linecap="round" stroke-linejoin="round"/>
<polyline points="859.23,238.55 859.23,241.88" fill="none" stroke="#555" stroke-width="1.15" stroke-linecap="round" stroke-linejoin="round"/>
<polyline points="857.07,236.51 857.07,243.92 855.11,246.33" fill="none" stroke="#555" stroke-width="1.15" stroke-linecap="round" stroke-linejoin="round"/>
<polyline points="406.46,144.2 407.45,146.18" fill="none" stroke="#555" stroke-width="1.15" stroke-linecap="round" stroke-linejoin="round"/>
<polyline points="402.79,148.95 412.41,148.95" fill="none" stroke="#555" stroke-width="1.15" stroke-linecap="round" stroke-linejoin="round"/>
<polyline points="407.35,149.64 404.58,154.09 410.72,153.5" fill="none" stroke="#555" stroke-width="1.15" stroke-linecap="round" stroke-linejoin="round"/>
<polyline points="409.53,152.11 410.72,153.9" fill="none" stroke="#555" stroke-width="1.15" stroke-linecap="round" stroke-linejoin="round"/>
<polyline points="406.16,154.39 405.77,158.55 402.2,162.6" fill="none" stroke="#555" stroke-width="1.15" stroke-linecap="round" stroke-linejoin="round"/>
<polyline points="408.54,154.39 408.54,161.61 412.9,161.61 412.9,159.04" fill="none" stroke="#555" stroke-width="1.15" stroke-linecap="round" stroke-linejoin="round"/>
<polyline points="913.58,218.6 914.6,220.47" fill="none" stroke="#555" stroke-width="1.15" stroke-linecap="round" stroke-linejoin="round"/>
<polyline points="909.81,223.09 919.68,223.09" fill="none" stroke="#555" stroke-width="1.15" stroke-linecap="round" stroke-linejoin="round"/>
<polyline points="914.49,223.75 911.65,227.96 917.95,227.4" fill="none" stroke="#555" stroke-width="1.15" stroke-linecap="round" stroke-linejoin="round"/>
<polyline points="916.73,226.09 917.95,227.77" fill="none" stroke="#555" stroke-width="1.15" stroke-linecap="round" stroke-linejoin="round"/>
<polyline points="913.27,228.24 912.87,232.17 909.2,236.01" fill="none" stroke="#555" stroke-width="1.15" stroke-linecap="round" stroke-linejoin="round"/>
<polyline points="915.72,228.24 915.72,235.08 920.19,235.08 920.19,232.64" fill="none" stroke="#555" stroke-width="1.15" stroke-linecap="round" stroke-linejoin="round"/>
<polyline points="182.6,192.8 180.4,198.6 184,197.6" fill="none" stroke="#555" stroke-width="1.15" stroke-linecap="round" stroke-linejoin="round"/>
<polyline points="184,195.5 180.4,203.6 184.6,202.2" fill="none" stroke="#555" stroke-width="1.15" stroke-linecap="round" stroke-linejoin="round"/>
<polyline points="180.4,207 184.8,204.8" fill="none" stroke="#555" stroke-width="1.15" stroke-linecap="round" stroke-linejoin="round"/>
<polyline points="184.6,197.4 189.2,197.4" fill="none" stroke="#555" stroke-width="1.15" stroke-linecap="round" stroke-linejoin="round"/>
<polyline points="186.9,197.4 186.9,206.3" fill="none" stroke="#555" stroke-width="1.15" stroke-linecap="round" stroke-linejoin="round"/>
<polyline points="184.4,206.3 190.8,206.3" fill="none" stroke="#555" stroke-width="1.15" stroke-linecap="round" stroke-linejoin="round"/>
<polyline points="660.51,178.8 658.58,183.73 661.28,182.94" fill="none" stroke="#555" stroke-width="1.15" stroke-linecap="round" stroke-linejoin="round"/>
<polyline points="661.47,181.36 658.58,188.66 662.24,187.48" fill="none" stroke="#555" stroke-width="1.15" stroke-linecap="round" stroke-linejoin="round"/>
<polyline points="658.58,191.82 662.43,189.85" fill="none" stroke="#555" stroke-width="1.15" stroke-linecap="round" stroke-linejoin="round"/>
<polyline points="663.4,179.79 667.44,179.79 667.44,184.32" fill="none" stroke="#555" stroke-width="1.15" stroke-linecap="round" stroke-linejoin="round"/>
<polyline points="663.59,182.05 667.44,182.05" fill="none" stroke="#555" stroke-width="1.15" stroke-linecap="round" stroke-linejoin="round"/>
<polyline points="663.01,184.32 668.21,184.32" fill="none" stroke="#555" stroke-width="1.15" stroke-linecap="round" stroke-linejoin="round"/>
<polyline points="665.51,184.32 665.51,193.2 664.55,192.41" fill="none" stroke="#555" stroke-width="1.15" stroke-linecap="round" stroke-linejoin="round"/>
<polyline points="663.4,186.2 664.74,187.68" fill="none" stroke="#555" stroke-width="1.15" stroke-linecap="round" stroke-linejoin="round"/>
<polyline points="663.2,191.23 665.32,189.06" fill="none" stroke="#555" stroke-width="1.15" stroke-linecap="round" stroke-linejoin="round"/>
<polyline points="667.82,186.1 666.09,188.27" fill="none" stroke="#555" stroke-width="1.15" stroke-linecap="round" stroke-linejoin="round"/>
<polyline points="666.09,188.66 668.4,191.23" fill="none" stroke="#555" stroke-width="1.15" stroke-linecap="round" stroke-linejoin="round"/>
<path d="M178.4,193.2 Q175.3,201.1 178.4,209" fill="none" stroke="#555" stroke-width="1.1"/>
<path d="M191.4,193.2 Q194.5,201.1 191.4,209" fill="none" stroke="#555" stroke-width="1.1"/>
<path d="M657.8,178.2 Q654.7,186.2 657.8,194.2" fill="none" stroke="#555" stroke-width="1.1"/>
<path d="M670.2,178.2 Q673.3,186.2 670.2,194.2" fill="none" stroke="#555" stroke-width="1.1"/>
<circle cx="211.7" cy="65.4" r="4.3" fill="#fff" stroke="#555" stroke-width="1.1"/>
<circle cx="238.2" cy="65.4" r="3.1" fill="#1a1a1a"/>
<circle cx="352.1" cy="6.5" r="4.3" fill="#fff" stroke="#555" stroke-width="1.1"/>
<circle cx="352.1" cy="79.4" r="4.3" fill="#fff" stroke="#555" stroke-width="1.1"/>
<circle cx="325.9" cy="6.5" r="3.1" fill="#1a1a1a"/>
<circle cx="325.9" cy="79.4" r="3.1" fill="#1a1a1a"/>
<circle cx="388.2" cy="65.4" r="4.3" fill="#fff" stroke="#555" stroke-width="1.1"/>
<circle cx="414.7" cy="65.4" r="3.1" fill="#1a1a1a"/>
<circle cx="528.6" cy="6.5" r="4.3" fill="#fff" stroke="#555" stroke-width="1.1"/>
<circle cx="528.6" cy="79.4" r="4.3" fill="#fff" stroke="#555" stroke-width="1.1"/>
<circle cx="502.4" cy="6.5" r="3.1" fill="#1a1a1a"/>
<circle cx="502.4" cy="79.4" r="3.1" fill="#1a1a1a"/>
<circle cx="564" cy="65.4" r="4.3" fill="#fff" stroke="#555" stroke-width="1.1"/>
<circle cx="590" cy="65.4" r="3.1" fill="#1a1a1a"/>
<circle cx="648.63" cy="65.4" r="3.1" fill="#1a1a1a"/>
<circle cx="677.83" cy="6.5" r="3.1" fill="#1a1a1a"/>
<circle cx="677.83" cy="79.4" r="3.1" fill="#1a1a1a"/>
<circle cx="707.26" cy="65.4" r="3.1" fill="#1a1a1a"/>
<circle cx="736.46" cy="6.5" r="3.1" fill="#1a1a1a"/>
<circle cx="736.46" cy="79.4" r="3.1" fill="#1a1a1a"/>
<circle cx="795.09" cy="6.5" r="3.1" fill="#1a1a1a"/>
<circle cx="795.09" cy="79.4" r="3.1" fill="#1a1a1a"/>
<circle cx="821.3" cy="6.5" r="4.3" fill="#fff" stroke="#555" stroke-width="1.1"/>
<circle cx="821.3" cy="79.4" r="4.3" fill="#fff" stroke="#555" stroke-width="1.1"/>
<circle cx="927.5" cy="124.4" r="4.3" fill="#fff" stroke="#555" stroke-width="1.1"/>
<circle cx="927.5" cy="437.4" r="4.3" fill="#fff" stroke="#555" stroke-width="1.1"/>
<circle cx="67" cy="437.4" r="3.1" fill="#1a1a1a"/>
<circle cx="126.8" cy="437.4" r="3.1" fill="#1a1a1a"/>
<circle cx="156.4" cy="437.4" r="3.1" fill="#1a1a1a"/>
<circle cx="260.6" cy="437.4" r="3.1" fill="#1a1a1a"/>
<circle cx="320.5" cy="437.4" r="3.1" fill="#1a1a1a"/>
<circle cx="379.3" cy="437.4" r="3.1" fill="#1a1a1a"/>
<circle cx="454" cy="437.4" r="3.1" fill="#1a1a1a"/>
<circle cx="647.8" cy="437.4" r="3.1" fill="#1a1a1a"/>
<circle cx="871" cy="437.4" r="3.1" fill="#1a1a1a"/>
<circle cx="67" cy="124.4" r="3.1" fill="#1a1a1a"/>
<circle cx="126.5" cy="124.4" r="3.1" fill="#1a1a1a"/>
<circle cx="156.2" cy="124.4" r="3.1" fill="#1a1a1a"/>
<circle cx="216.2" cy="124.4" r="3.1" fill="#1a1a1a"/>
<circle cx="424.1" cy="124.4" r="3.1" fill="#1a1a1a"/>
<circle cx="454.1" cy="124.4" r="3.1" fill="#1a1a1a"/>
<circle cx="766.8" cy="124.4" r="3.1" fill="#1a1a1a"/>
<circle cx="67" cy="243.3" r="3.1" fill="#1a1a1a"/>
<circle cx="67" cy="303.5" r="3.1" fill="#1a1a1a"/>
<circle cx="67" cy="347.9" r="3.1" fill="#1a1a1a"/>
<circle cx="96.8" cy="303.5" r="3.1" fill="#1a1a1a"/>
<circle cx="331.9" cy="169.6" r="4.3" fill="#fff" stroke="#555" stroke-width="1.1"/>
<circle cx="364.7" cy="151.7" r="4.3" fill="#fff" stroke="#555" stroke-width="1.1"/>
<circle cx="364.7" cy="187.2" r="4.3" fill="#fff" stroke="#555" stroke-width="1.1"/>
<circle cx="394.6" cy="166.3" r="4.3" fill="#fff" stroke="#555" stroke-width="1.1"/>
<circle cx="424.1" cy="273.5" r="3.1" fill="#1a1a1a"/>
<circle cx="513.6" cy="243.5" r="3.1" fill="#1a1a1a"/>
<circle cx="260.6" cy="273.5" r="3.1" fill="#1a1a1a"/>
<circle cx="320.5" cy="273.5" r="3.1" fill="#1a1a1a"/>
<circle cx="379.5" cy="273.5" r="3.1" fill="#1a1a1a"/>
<circle cx="618" cy="214.1" r="3.1" fill="#1a1a1a"/>
<circle cx="677.3" cy="214.1" r="3.1" fill="#1a1a1a"/>
<circle cx="618" cy="303.6" r="3.1" fill="#1a1a1a"/>
<circle cx="618" cy="392.5" r="3.1" fill="#1a1a1a"/>
<circle cx="677.3" cy="303.4" r="3.1" fill="#1a1a1a"/>
<circle cx="677.3" cy="392.5" r="3.1" fill="#1a1a1a"/>
<circle cx="707.3" cy="139.4" r="3.1" fill="#1a1a1a"/>
<circle cx="707.3" cy="303.4" r="3.1" fill="#1a1a1a"/>
<circle cx="927.5" cy="392.6" r="4.3" fill="#fff" stroke="#555" stroke-width="1.1"/>
<circle cx="871" cy="392.6" r="3.1" fill="#1a1a1a"/>
<circle cx="900.7" cy="392.6" r="3.1" fill="#1a1a1a"/>
<circle cx="868.1" cy="214.4" r="4.3" fill="#fff" stroke="#555" stroke-width="1.1"/>
<circle cx="904" cy="214.4" r="4.3" fill="#fff" stroke="#555" stroke-width="1.1"/>
<circle cx="927.7" cy="214.4" r="4.3" fill="#fff" stroke="#555" stroke-width="1.1"/>
<circle cx="871.1" cy="247" r="4.3" fill="#fff" stroke="#555" stroke-width="1.1"/>
<circle cx="900.8" cy="247" r="4.3" fill="#fff" stroke="#555" stroke-width="1.1"/>
<circle cx="871.1" cy="288.8" r="3.1" fill="#1a1a1a"/>
</svg>
</body></html>
